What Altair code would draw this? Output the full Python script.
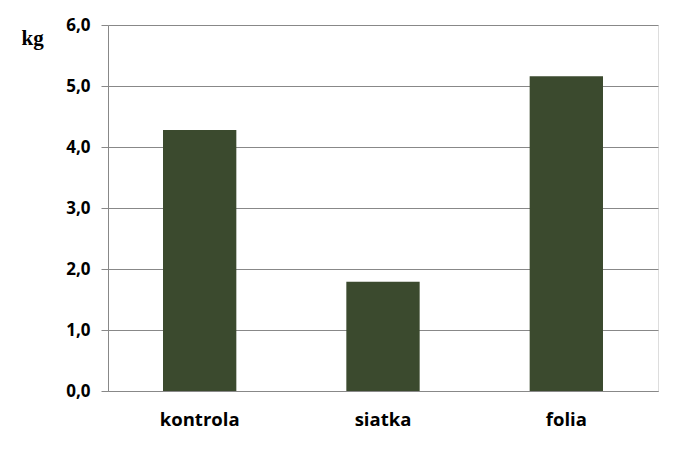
import altair as alt
import pandas as pd

categories = ["kontrola", "siatka", "folia"]
values = [4.28, 1.79, 5.16]
y_ticks = [0, 1, 2, 3, 4, 5, 6]

df = pd.DataFrame({"cat": categories, "val": values})

bars = alt.Chart(df).mark_bar(color="#3B4A2E").encode(
    x=alt.X("cat:N", sort=categories,
            scale=alt.Scale(paddingInner=0.6, paddingOuter=0.3),
            axis=alt.Axis(title=None, labelAngle=0, ticks=False,
                          labelFont="Open Sans", labelFontWeight="bold",
                          labelFontSize=18.5, labelColor="black",
                          labelPadding=19, domainColor="#888888",
                          domainWidth=1)),
    y=alt.Y("val:Q", scale=alt.Scale(domain=[0, 6], nice=False),
            axis=alt.Axis(title="kg", titleAngle=0, titleX=-87, titleY=13,
                          titleAlign="left", titleBaseline="middle",
                          titleFont="Liberation Serif", titleFontSize=21,
                          titleFontWeight="bold", titleColor="black",
                          values=y_ticks, labelOverlap=False,
                          labelExpr="replace(format(datum.value, '.1f'), '.', ',')",
                          labelFont="Open Sans", labelFontWeight="bold",
                          labelFontSize=17, labelColor="black",
                          labelPadding=11, tickSize=7, tickColor="#888888",
                          domainColor="#888888", gridColor="#888888",
                          gridWidth=1, grid=True)),
)

chart = bars.properties(
    width=550, height=366,
    autosize=alt.AutoSizeParams(type="none"),
    padding={"left": 100, "top": 17, "right": 16, "bottom": 50},
).configure_view(stroke=None).configure(background="white")

chart.save("out.html", embed_options={"renderer": "svg", "actions": False})
